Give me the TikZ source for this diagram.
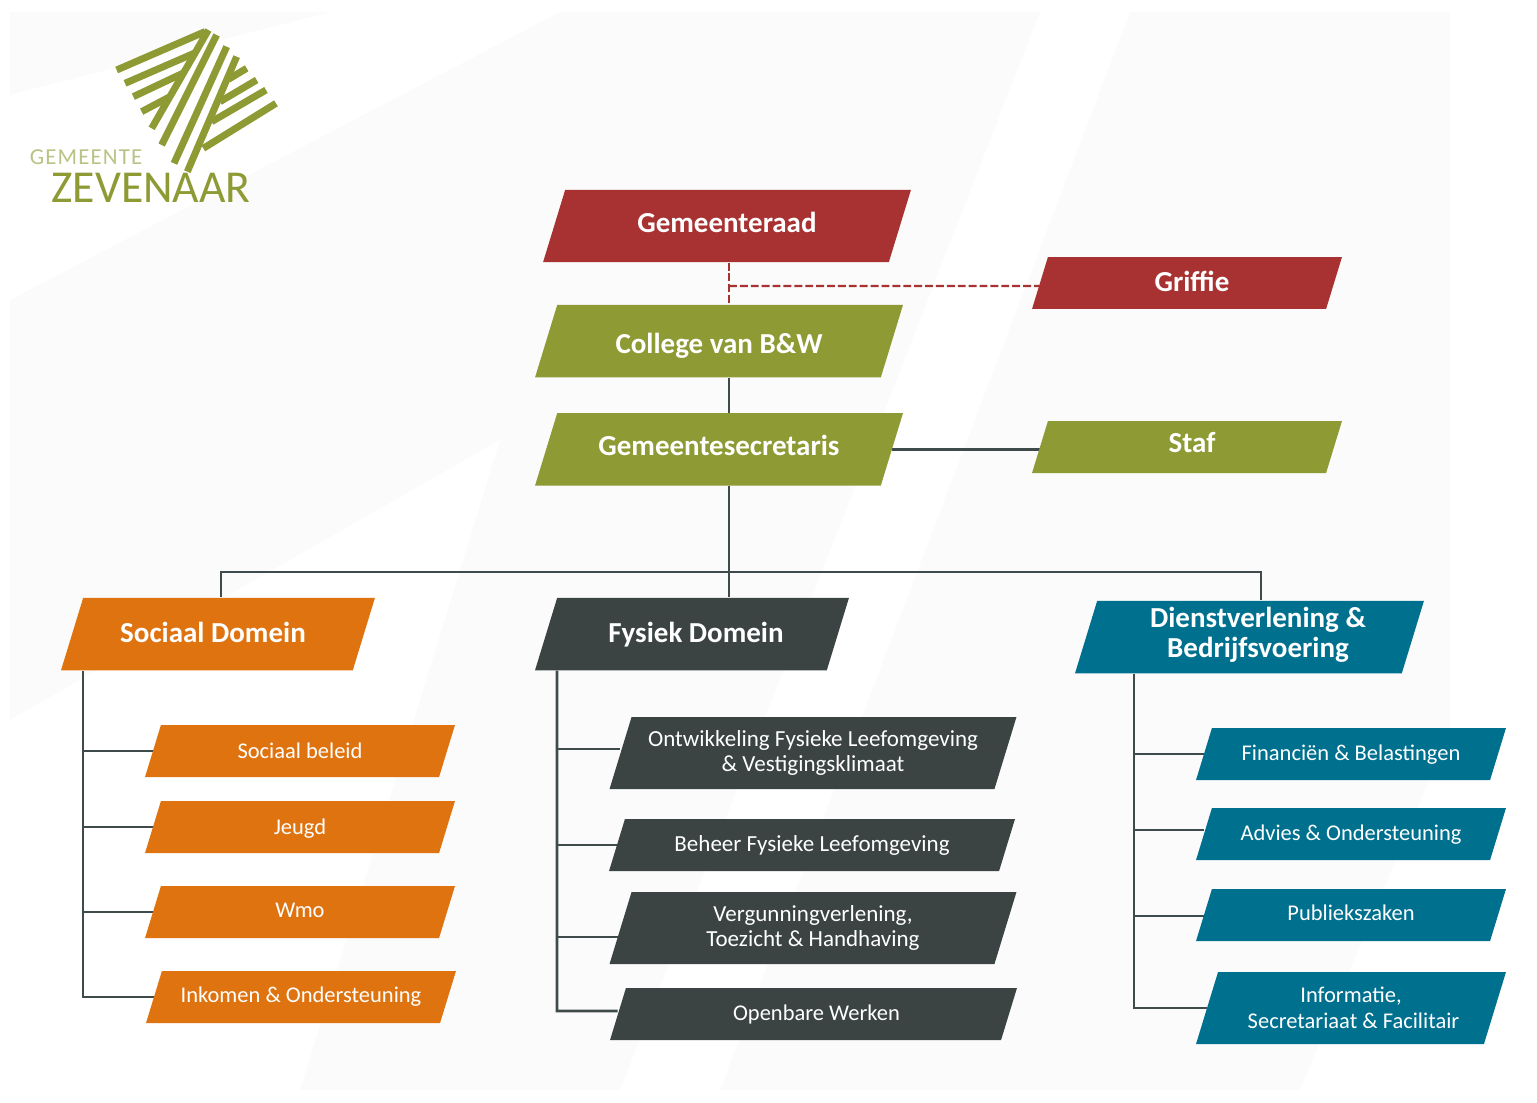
\documentclass[tikz,border=0pt]{standalone}
\usepackage{fontspec}
\setmainfont{Carlito}
\newfontfamily\logofont[LetterSpace=5]{Carlito}
\usepackage{tikz}
\usetikzlibrary{positioning,shapes.geometric,backgrounds}

\definecolor{raadrood}{HTML}{A83232}
\definecolor{olijf}{HTML}{8E9A34}
\definecolor{oranje}{HTML}{DF730F}
\definecolor{donker}{HTML}{3B4443}
\definecolor{blauw}{HTML}{00708F}
\definecolor{lijnkleur}{HTML}{3F4A4A}
\definecolor{vlak}{HTML}{FBFBFB}

\newcommand{\hef}[2]{\raisebox{#1}[\height][\depth]{#2}}

\begin{document}
\begin{tikzpicture}[x=0.02cm, y=-0.02cm,
    vak/.style={trapezium, trapezium left angle=73, trapezium right angle=107,
      trapezium stretches body=true, inner sep=0pt, text=white,
      execute at begin node={\begin{minipage}[c][\pgfkeysvalueof{/pgf/minimum height}][c]{\dimexpr\pgfkeysvalueof{/pgf/minimum width}-1cm\relax}\centering},
      execute at end node={\end{minipage}}},
    groot/.style={vak, minimum width=7.36cm, minimum height=1.45cm, font=\fontsize{16.5}{17}\selectfont\bfseries},
    zij/.style={groot, minimum width=6.2cm, minimum height=1.04cm},
    klein/.style={vak, minimum width=6.2cm, minimum height=1.04cm, font=\fontsize{12.8}{14.5}\selectfont},
    domein/.style={groot, minimum width=6.28cm},
    breed/.style={klein, minimum width=8.14cm, minimum height=1.44cm, font=\fontsize{13.1}{14.5}\selectfont},
    lijn/.style={draw=lijnkleur, line width=1.5pt},
    stippel/.style={draw=raadrood, line width=1.3pt, dash pattern=on 4.5pt off 1.7pt}
    ]

    \useasboundingbox (0,0) rectangle (1537,1102);

    % bovenste deel
    \node[groot, fill=raadrood] (raad) at (727,226) {\hef{0.08cm}{Gemeenteraad}};
    \node[groot, fill=olijf]    (college) [below=0.84cm of raad, xshift=-0.16cm] {\hef{-0.09cm}{College van B\&W}};
    \node[groot, fill=olijf]    (secretaris) [below=0.70cm of college] {\hef{0.07cm}{Gemeentesecretaris}};
    \node[zij, fill=raadrood] (griffie) at (1187,283) {\hspace*{0.2cm}\hef{0.04cm}{Griffie}};
    \node[zij, fill=olijf]    (staf) at (1187,447) {\hspace*{0.2cm}\hef{0.08cm}{Staf}};

    % domeinen
    \node[domein, fill=oranje] (sociaal) at (218,634) {\hspace*{-0.2cm}\hef{0.04cm}{Sociaal Domein}};
    \node[domein, fill=donker] (fysiek)  at (692,634) {\hspace*{0.16cm}\hef{-0.02cm}{Fysiek Domein}};
    \node[domein, fill=blauw, minimum width=6.98cm] (dienst) at (1249.5,637) {\hspace*{0.34cm}\hef{0.04cm}{Dienstverlening \&}\\ \hspace*{0.34cm}\hef{0.04cm}{Bedrijfsvoering}};

    % sociaal domein
    \node[klein, fill=oranje] (beleid)  at (300,751) {Sociaal beleid};
    \node[klein, fill=oranje] (jeugd)   at (300,827) {\hef{-0.04cm}{Jeugd}};
    \node[klein, fill=oranje] (wmo)     at (300,912) {\hef{0.04cm}{Wmo}};
    \node[klein, fill=oranje] (inkomen) at (301,997) {Inkomen \& Ondersteuning};

    % fysiek domein
    \node[breed, fill=donker] (ontwikkeling) at (813,753) {Ontwikkeling Fysieke Leefomgeving\\ \& Vestigingsklimaat};
    \node[breed, fill=donker, minimum width=8.12cm, minimum height=1.04cm] (beheer) at (812,845) {Beheer Fysieke Leefomgeving};
    \node[breed, fill=donker] (vergunning) at (813,928) {Vergunningverlening,\\ Toezicht \& Handhaving};
    \node[klein, fill=donker, minimum width=8.14cm] (openbaar) at (813.5,1014) {\hspace*{0.12cm}Openbare Werken};

    % dienstverlening
    \node[klein, fill=blauw] (financien) at (1351,754) {\hef{-0.02cm}{Financiën \& Belastingen}};
    \node[klein, fill=blauw] (advies)    at (1351,834) {\hef{-0.02cm}{Advies \& Ondersteuning}};
    \node[klein, fill=blauw] (publiek)   at (1351,915) {\hef{0.04cm}{Publiekszaken}};
    \node[klein, fill=blauw, minimum height=1.44cm] (informatie) at (1351,1008) {Informatie,\\ \hspace*{0.1cm}Secretariaat \& Facilitair};

    \coordinate (stam) at (729,572);
    \coordinate (links) at (221,572);
    \coordinate (rechts) at (1261,572);
    \coordinate (busS) at (83,700);
    \coordinate (busF) at (557,700);
    \coordinate (busD) at (1134,700);

    \begin{scope}[on background layer]
      % achtergrond
      \fill[vlak] (10,12) rectangle (1450,1090);
      \fill[white] (10,95) -- (330,12) -- (560,12) -- (10,300) -- cycle;
      \fill[white] (620,1090) -- (1040,12) -- (1130,12) -- (720,1090) -- cycle;
      \fill[white] (1300,1090) -- (1537,520) -- (1537,1090) -- cycle;
      \fill[white] (10,720) -- (500,440) -- (300,1090) -- (10,1090) -- cycle;

      \path[stippel] (stam |- raad.south) -- (stam |- college.north);
      \path[stippel] (stam |- 0,286) -- ([yshift=-0.06cm]griffie.west);
      \path[lijn] (stam |- college.south) -- (stam |- secretaris.north);
      \path[lijn] (secretaris.east) -- (staf.west |- secretaris.east);
      \path[lijn] (stam |- secretaris.south) -- (stam |- fysiek.north);
      \path[lijn] (links |- sociaal.north) -- (links) -- (rechts) -- (rechts |- dienst.north);
      % takken
      \path[lijn] (busS |- sociaal.south) -- (busS |- inkomen.west) -- (inkomen.west);
      \foreach \tak in {beleid,jeugd,wmo}
        \path[lijn] (busS |- \tak.west) -- (\tak.west);
      \path[lijn] (busF |- fysiek.south) -- (busF |- 0,1011) -- ([yshift=0.06cm]openbaar.west);
      \foreach \tak/\ver in {ontwikkeling/0.08,beheer/0,vergunning/-0.18}
        \path[lijn] ([yshift=\ver cm]\tak.west -| busF) -- ([yshift=\ver cm]\tak.west);
      \path[lijn] (busD |- dienst.south) -- (busD |- informatie.west) -- (informatie.west);
      \foreach \tak/\ver in {financien/0,advies/0.08,publiek/-0.02}
        \path[lijn] ([yshift=\ver cm]\tak.west -| busD) -- ([yshift=\ver cm]\tak.west);
    \end{scope}

    % logo
    \begin{scope}[x=0.00667cm, y=-0.00667cm, line width=0.14cm, draw=olijf]
      \draw (350,210) -- (615,95);
      \draw (375,250) -- (582,160);
      \draw (400,290) -- (548,220);
      \draw (425,335) -- (510,290);
      \draw (625,90) -- (455,385);
      \draw (650,105) -- (485,435);
      \draw (680,140) -- (522,490);
      \draw (710,170) -- (562,515);
      \draw (740,205) -- (685,238);
      \draw (770,240) -- (660,305);
      \draw (798,270) -- (635,365);
      \draw (828,310) -- (610,445);
    \end{scope}
    \node[text=olijf!60, font=\logofont\fontsize{13}{13}\selectfont, inner sep=0pt] (gemeente) at (86,157) {GEMEENTE};
    \node[text=olijf, font=\fontsize{26}{26}\selectfont, inner sep=0pt] (zevenaar) at (151,188) {ZEVENAAR};

\end{tikzpicture}
\end{document}
